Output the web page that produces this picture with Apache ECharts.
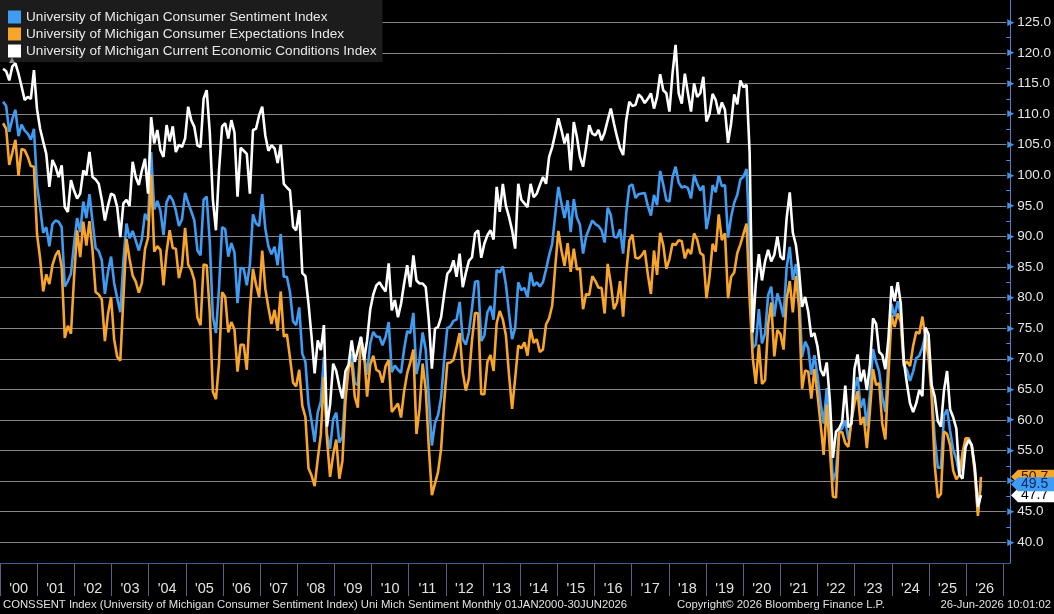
<!DOCTYPE html>
<html>
<head>
<meta charset="utf-8">
<script src="https://cdn.jsdelivr.net/npm/echarts@6/dist/echarts.min.js"></script>
<style>
html,body{margin:0;padding:0;background:#000;}
#c{width:1054px;height:614px;}
</style>
</head>
<body>
<div id="c"></div>
<script>
// ---------------- DATA (monthly, Jan 2000 - Jun 2026) ----------------
const yearLabels = ["'00","'01","'02","'03","'04","'05","'06","'07","'08","'09","'10","'11","'12","'13","'14","'15","'16","'17","'18","'19","'20","'21","'22","'23","'24","'25","'26"];

const seriesNames = [
  "University of Michigan Consumer Sentiment Index",
  "University of Michigan Consumer Expectations Index",
  "University of Michigan Current Economic Conditions Index"
];

// Consumer Sentiment Index (blue)
const sentiment = [
  112.0,111.3,107.1,109.2,110.7,106.4,108.3,107.3,106.8,105.8,107.6,98.4,
  94.7,90.6,91.5,88.4,92.0,92.6,92.4,91.5,81.8,82.7,83.9,88.8,
  93.0,90.7,95.7,93.0,96.9,92.4,88.1,87.6,86.1,80.6,84.2,86.7,
  82.4,79.9,77.6,86.0,92.1,89.7,90.9,89.3,87.7,89.6,93.7,92.6,
  103.8,94.4,95.8,94.2,90.2,95.6,96.7,95.9,94.2,91.7,92.8,97.1,
  95.5,94.1,92.6,87.7,86.9,96.0,96.5,89.1,76.9,74.2,81.6,91.5,
  91.2,86.7,88.9,87.4,79.1,84.9,84.7,82.0,85.4,93.6,92.1,91.7,
  96.9,91.3,88.4,87.1,88.3,85.3,90.4,83.4,83.4,80.9,76.1,75.5,
  78.4,70.8,69.5,62.6,59.8,56.4,61.2,63.0,70.3,57.6,55.3,60.1,
  61.2,56.3,57.3,65.1,68.7,70.8,66.0,65.7,73.5,70.6,67.4,72.5,
  74.4,73.6,73.6,72.2,73.6,76.0,67.8,68.9,68.2,67.7,71.6,74.5,
  74.2,77.5,67.5,69.8,74.3,71.5,63.7,55.8,59.5,60.8,63.7,69.9,
  75.0,75.3,76.2,76.4,79.3,73.2,72.3,74.3,78.3,82.6,82.7,72.9,
  73.8,77.6,78.6,76.4,84.5,84.1,85.1,82.1,77.5,73.2,75.1,82.5,
  81.2,81.6,80.0,84.1,81.9,82.5,81.8,82.5,84.6,86.9,88.8,93.6,
  98.1,95.4,93.0,95.9,90.7,96.1,93.1,91.9,87.2,90.0,91.3,92.6,
  92.0,91.7,91.0,89.0,94.7,93.5,90.0,89.8,91.2,87.2,93.8,98.2,
  98.5,96.3,96.9,97.0,97.1,95.0,93.4,96.8,95.1,100.7,98.5,95.9,
  95.7,99.7,101.4,98.8,98.0,98.2,97.9,96.2,100.1,98.6,97.5,98.3,
  91.2,93.8,98.4,97.2,100.0,98.2,98.4,89.8,93.2,95.5,96.8,99.3,
  99.8,101.0,89.1,71.8,72.3,78.1,72.5,74.1,80.4,81.8,76.9,80.7,
  79.0,76.8,84.9,88.3,82.9,85.5,81.2,70.3,72.8,71.7,67.4,70.6,
  67.2,62.8,59.4,65.2,58.4,50.0,51.5,58.2,58.6,59.9,56.8,59.7,
  64.9,67.0,62.0,63.5,59.0,64.4,71.6,69.5,67.9,63.8,61.3,69.7,
  79.0,76.9,79.4,77.2,69.1,68.2,66.4,67.9,70.1,70.5,71.8,74.0,
  71.7,64.7,57.0,52.2,52.2,60.7,61.7,58.2,55.1,53.6,51.0,52.9,
  56.4,56.9,55.8,51.7,44.9,49.5
];

// Consumer Expectations Index (orange)
const expectations = [
  108.5,107.6,101.7,103.7,105.8,99.9,104.3,104.1,103.0,101.5,101.4,90.4,
  86.4,81.0,83.8,82.2,85.3,86.9,87.7,85.0,73.4,75.4,74.1,83.2,
  91.0,86.6,92.4,88.5,92.5,87.7,80.9,80.5,79.7,72.9,77.3,80.1,
  73.2,70.3,69.7,80.0,89.6,86.3,83.6,82.6,80.8,82.4,87.9,89.8,
  100.1,87.5,88.4,87.8,82.0,87.5,91.0,88.1,88.0,83.2,85.2,91.4,
  85.4,84.5,82.8,76.7,75.5,85.4,85.3,77.6,64.6,63.4,69.3,80.9,
  80.1,74.3,76.0,74.8,67.9,72.3,72.3,68.2,77.9,84.7,82.1,80.1,
  87.7,81.5,78.4,75.7,78.0,74.6,81.0,73.6,74.0,70.2,66.1,65.5,
  68.2,62.3,60.5,52.1,50.9,49.2,53.6,57.6,67.0,56.8,50.7,54.3,
  56.8,50.4,53.3,63.2,68.5,69.4,63.8,62.0,73.4,71.1,63.8,69.0,
  70.5,68.2,67.9,66.1,68.8,69.8,61.3,62.0,62.7,60.4,64.7,67.6,
  69.4,71.5,57.7,61.8,69.2,65.0,55.6,47.7,49.6,51.5,55.3,63.0,
  69.3,69.4,69.8,71.9,74.2,67.8,64.8,66.8,73.0,77.5,77.4,64.2,
  64.2,69.5,70.6,68.0,75.8,77.8,76.4,73.8,67.4,61.8,66.8,72.2,
  71.7,72.7,70.5,74.8,72.6,73.2,71.1,71.5,75.6,76.6,78.7,85.1,
  90.9,87.7,85.2,88.9,84.2,88.0,84.6,84.8,78.1,80.6,80.4,83.5,
  82.7,81.6,81.6,77.4,85.5,82.3,78.1,79.2,82.7,76.9,84.0,89.3,
  90.3,86.5,86.4,86.9,87.7,83.8,80.6,87.7,83.7,90.6,88.6,84.7,
  86.3,88.8,88.6,89.4,89.2,86.4,87.9,87.1,90.5,89.5,87.3,86.9,
  79.9,83.4,88.8,87.5,93.6,89.4,90.5,79.9,83.4,84.1,87.3,88.7,
  90.4,92.1,79.7,70.2,65.9,72.3,65.9,66.5,75.6,79.2,70.4,74.7,
  74.0,71.5,79.7,82.7,77.6,83.5,78.5,65.1,68.1,67.9,63.5,68.3,
  64.1,59.4,54.3,62.5,55.2,47.5,47.3,58.0,58.0,56.2,55.6,59.9,
  62.7,64.7,59.2,60.5,55.4,61.5,68.3,65.7,66.0,59.3,56.8,67.4,
  77.1,75.2,77.4,76.0,68.8,69.6,68.8,72.1,74.4,74.1,76.9,73.3,
  70.2,64.0,52.6,47.3,47.9,58.1,57.7,55.9,51.7,50.3,51.0,54.6,
  57.0,57.0,55.7,51.4,44.3,50.7
];

// Current Economic Conditions Index (white)
const current = [
  117.4,117.0,115.5,117.8,118.3,116.6,114.5,112.3,112.8,112.5,117.2,110.8,
  107.6,105.5,103.5,98.1,102.5,101.4,99.7,101.6,94.8,94.0,99.2,97.5,
  96.2,97.0,100.8,100.0,103.8,99.7,99.3,98.6,96.0,92.6,95.0,97.0,
  96.7,94.8,89.9,95.4,96.0,95.0,102.2,99.7,98.4,100.8,102.7,97.0,
  109.5,105.2,107.4,104.1,103.0,108.2,105.5,108.0,103.8,105.0,104.6,106.0,
  111.2,109.0,107.9,104.9,104.6,112.5,113.9,107.0,96.0,91.0,100.8,108.0,
  108.5,106.0,109.0,107.0,96.5,104.5,104.0,103.5,97.0,107.4,107.6,109.8,
  111.2,106.5,104.0,104.9,104.4,102.0,105.0,98.6,98.0,97.5,91.6,91.0,
  94.3,84.0,83.5,79.0,73.6,67.6,73.0,71.4,75.5,58.9,62.5,69.2,
  68.0,65.5,63.5,68.0,69.0,73.0,69.5,71.5,73.6,69.8,73.0,78.0,
  80.5,82.0,82.5,81.7,81.0,85.6,77.9,79.6,76.8,79.0,82.3,85.3,
  81.7,86.9,82.8,82.3,82.3,81.7,76.3,68.4,74.9,75.2,76.8,80.6,
  83.9,84.5,86.1,83.4,87.2,81.7,84.0,86.0,86.6,90.5,91.0,86.5,
  88.8,90.2,91.0,89.5,98.1,94.0,98.6,95.0,93.2,91.0,88.0,98.6,
  96.0,95.4,94.8,98.6,96.4,97.0,98.4,99.7,98.6,103.0,104.6,106.8,
  109.3,107.4,105.2,106.8,100.8,108.7,106.3,103.0,101.4,104.6,108.2,106.8,
  106.5,107.4,105.7,107.0,109.0,110.9,108.5,106.3,104.4,103.3,109.0,112.0,
  111.3,111.5,113.2,112.7,111.8,112.5,113.4,110.9,112.8,116.5,113.9,113.4,
  110.4,116.6,121.3,113.4,111.7,116.6,113.4,110.4,115.0,112.8,113.4,116.1,
  108.8,110.0,113.3,112.3,110.0,111.9,110.7,105.3,108.5,113.2,111.6,115.5,
  114.4,114.8,103.7,74.3,82.3,87.1,82.8,85.9,87.8,85.9,87.0,90.0,
  86.7,86.2,93.0,97.2,90.6,88.6,84.5,78.5,80.1,77.7,73.6,74.2,
  72.0,68.2,67.2,69.4,63.3,53.8,58.1,58.6,59.7,65.6,58.8,59.4,
  68.4,70.7,66.3,68.2,64.9,69.0,76.6,75.7,71.1,70.6,68.3,73.3,
  81.9,79.4,82.5,79.0,69.6,65.9,62.7,61.3,62.7,64.9,63.9,75.1,
  74.0,65.7,63.8,59.8,58.9,64.8,68.0,61.7,60.4,58.6,51.1,50.4,
  55.6,56.7,55.9,52.3,45.8,47.7
];

const footerLeft = "CONSSENT Index (University of Michigan Consumer Sentiment Index) Uni Mich Sentiment Monthly 01JAN2000-30JUN2026";
const footerMid = "Copyright\u00A9 2026 Bloomberg Finance L.P.";
const footerRight = "26-Jun-2026 10:01:02";

// ---------------- STYLE ----------------
const BLUE = '#3f9cf2';
const ORANGE = '#f7a52b';
const WHITE = '#ffffff';
const FONT = '"Liberation Sans", Arial, sans-serif';

const Y_MIN = 40, Y_MAX = 125, Y_STEP = 5;
const X_MAX = 326.2; // months from start of 2000 to right edge of plot

const toPts = arr => arr.map((v, i) => [i + 1, v]);

const chart = echarts.init(document.getElementById('c'), null, {renderer: 'canvas'});

const noZero = {onZero: false};

const option = {
  backgroundColor: '#000',
  animation: false,
  textStyle: {fontFamily: FONT},
  legend: {
    left: 0, top: 0, orient: 'vertical',
    icon: 'rect', itemWidth: 13, itemHeight: 13, itemGap: 3,
    backgroundColor: '#1c1c1c',
    padding: [10, 6, 4, 8],
    textStyle: {color: '#e8e8e8', fontSize: 13.6, fontFamily: FONT},
    selectedMode: false,
    data: seriesNames
  },
  grid: [
    {left: -3.28, right: 44, top: 22.3, bottom: 71.7},
    {left: 0, right: 44, top: 0, bottom: 51},
    {left: -3.28, right: 50.72, top: 0, bottom: 51}
  ],
  xAxis: [
    {type: 'value', gridIndex: 0, min: 0, max: X_MAX, show: false, axisLine: noZero},
    {type: 'value', gridIndex: 1, min: 0, max: 1,
      axisLine: {show: true, onZero: false, lineStyle: {color: '#3d5f96', width: 1}},
      axisTick: {show: false}, axisLabel: {show: false}, splitLine: {show: false}},
    {type: 'category', gridIndex: 2, data: yearLabels, boundaryGap: true,
      axisLine: {show: false, onZero: false},
      axisTick: {show: true, interval: 0, length: 33, lineStyle: {color: '#56637e', width: 1}},
      axisLabel: {interval: 0, color: '#e2e2e2', fontSize: 14.5, margin: 18, fontFamily: FONT},
      splitLine: {show: false}}
  ],
  yAxis: [
    {type: 'value', gridIndex: 0, position: 'right', min: Y_MIN, max: Y_MAX, interval: Y_STEP,
      axisLine: {show: false, onZero: false}, axisTick: {show: false},
      minorTick: {show: true, splitNumber: 2, length: 4, lineStyle: {color: '#4a8fe0', width: 1}},
      minorSplitLine: {show: false},
      splitLine: {show: true, lineStyle: {color: '#868686', width: 1}},
      axisLabel: {
        margin: 1,
        formatter: v => '{t|\u25B6}{v|' + v.toFixed(1) + '}',
        rich: {
          t: {color: '#4a90e2', fontSize: 9, padding: [0, 3, 0, 0], fontFamily: 'DejaVu Sans'},
          v: {color: '#e6e6e6', fontSize: 13.5, fontFamily: FONT}
        }
      }
    },
    {type: 'value', gridIndex: 1, position: 'right', min: 0, max: 1,
      axisLine: {show: true, onZero: false, lineStyle: {color: '#4283d6', width: 1}},
      axisTick: {show: false}, axisLabel: {show: false}, splitLine: {show: false}},
    {type: 'value', gridIndex: 2, show: false, axisLine: noZero}
  ],
  series: [
    {name: seriesNames[0], type: 'line', xAxisIndex: 0, yAxisIndex: 0, data: toPts(sentiment),
      showSymbol: false, symbol: 'none', lineStyle: {color: BLUE, width: 2.6}, itemStyle: {color: BLUE}, z: 2},
    {name: seriesNames[1], type: 'line', xAxisIndex: 0, yAxisIndex: 0, data: toPts(expectations),
      showSymbol: false, symbol: 'none', lineStyle: {color: ORANGE, width: 2.6}, itemStyle: {color: ORANGE}, z: 3},
    {name: seriesNames[2], type: 'line', xAxisIndex: 0, yAxisIndex: 0, data: toPts(current),
      showSymbol: false, symbol: 'none', lineStyle: {color: WHITE, width: 2.6}, itemStyle: {color: WHITE}, z: 4}
  ]
};

chart.setOption(option);

// ---- last-value tags on the right axis, placed through the y scale ----
const tags = [
  {arr: expectations, bg: ORANGE, fg: '#2b1800'},
  {arr: current, bg: '#ffffff', fg: '#000000'},
  {arr: sentiment, bg: BLUE, fg: '#0a2a60'}
];
const AX = 1010;
const graphics = [];
tags.forEach((t, k) => {
  const v = t.arr[t.arr.length - 1];
  const y = chart.convertToPixel({yAxisIndex: 0}, v);
  graphics.push({
    type: 'polygon', z: 100 + k * 2,
    shape: {points: [[AX + 1, y], [AX + 8, y - 7], [1054, y - 7], [1054, y + 7], [AX + 8, y + 7]]},
    style: {fill: t.bg}
  });
  graphics.push({
    type: 'text', z: 101 + k * 2, x: AX + 11, y: y,
    style: {text: v.toFixed(1), fill: t.fg, font: '14px ' + FONT, textVerticalAlign: 'middle', verticalAlign: 'middle'}
  });
});

// small grey marker under legend (start-of-data indicator)
graphics.push({type: 'polygon', z: 50, shape: {points: [[9, 63], [12, 57], [15, 63]]}, style: {fill: '#8a8a8a'}});

// footer
const FF = '11.3px ' + FONT;
graphics.push({type: 'text', x: 3, y: 605, style: {text: footerLeft, fill: '#e0e0e0', font: FF, verticalAlign: 'middle', textVerticalAlign: 'middle'}});
graphics.push({type: 'text', x: 677, y: 605, style: {text: footerMid, fill: '#e0e0e0', font: FF, verticalAlign: 'middle', textVerticalAlign: 'middle'}});
graphics.push({type: 'text', x: 1051, y: 605, style: {text: footerRight, fill: '#e0e0e0', font: FF, align: 'right', textAlign: 'right', verticalAlign: 'middle', textVerticalAlign: 'middle'}});

chart.setOption({graphic: graphics});
</script>
</body>
</html>
